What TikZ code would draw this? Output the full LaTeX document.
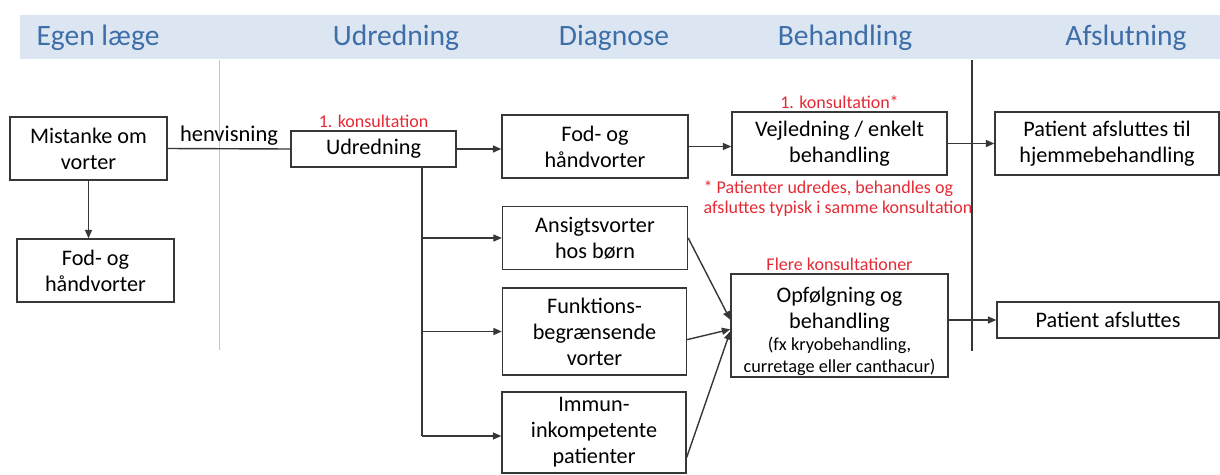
\documentclass[tikz,border=0pt]{standalone}
\usepackage{fontspec}
\setmainfont{Carlito}
\usetikzlibrary{arrows.meta}
\definecolor{bandblue}{RGB}{220,230,242}
\definecolor{headblue}{RGB}{62,110,168}
\definecolor{konsred}{RGB}{228,42,52}
\definecolor{linegray}{RGB}{55,55,55}
\newcommand{\smalltxt}{\fontsize{13}{15}\selectfont}

\begin{document}
\begin{tikzpicture}[x=0.025cm,y=-0.025cm,
    box/.style={draw=linegray,line width=1pt,align=center,inner sep=1pt,
      font=\fontsize{15.8}{18.5}\selectfont},
    sz/.style 2 args={minimum width=#1*0.025cm,minimum height=#2*0.025cm},
    head/.style={text=headblue,font=\fontsize{21}{24}\selectfont},
    konsnote/.style={text=konsred,font=\fontsize{12.8}{14.5}\selectfont,inner sep=1pt},
    conn/.style={draw=linegray,line width=1pt},
    pil/.style={conn,-{Triangle[length=6pt,width=5pt]}}]
  \useasboundingbox (0,0) rectangle (1220,474);
  \fill[bandblue] (20,15) rectangle (1220,59);
  \node[head] (h0) at (98,38) {Egen læge};
  \node[head] (h1) at (396,38) {Udredning};
  \node[head] (h2) at (614,38) {Diagnose};
  \node[head] (h3) at (845,38) {Behandling};
  \node[head] (h4) at (1126,38) {Afslutning};
  % phase separators
  \draw[gray!45,line width=0.6pt] (219,60) -- (219,350);
  \draw[linegray,line width=1pt] (972,60) -- (972,351);
  % boxes
  \node[box,sz={157}{63}] (mist) at (88.5,148.5) {Mistanke om\\vorter};
  \node[box,sz={157}{63}] (fodL) at (95.5,270.5) {Fod- og\\håndvorter};
  \node[box,sz={165}{36}] (udr) at (373.5,149) {Udredning};
  \node[box,sz={186}{63}] (fodM) at (595,146.5) {Fod- og\\håndvorter};
  \node[box,sz={185}{63}] (ans) at (595,238) {Ansigtsvorter\\hos børn};
  \node[box,sz={184}{87}] (funk) at (594.5,331.5) {Funktions-\\begrænsende\\vorter};
  \node[box,sz={184}{81}] (imm) at (594,432.5) {Immun-\\inkompetente\\patienter};
  \node[box,sz={215}{63}] (vej) at (839.5,143.5) {Vejledning / enkelt\\behandling};
  \node[box,sz={217}{103}] (opf) at (839.5,325.5)
    {\rule{0pt}{19pt}Opfølgning og\\behandling\\[-3pt]{\smalltxt (fx kryobehandling,}\\[-3pt]{\smalltxt curretage eller canthacur)}};
  \node[box,sz={224}{63}] (afh) at (1107,143.5) {Patient afsluttes til\\hjemmebehandling};
  \node[box,sz={222}{36}] (afs) at (1108,320) {Patient afsluttes};
  % red notes
  \node[konsnote,above=1pt] (k1) at (udr.north) {1. konsultation};
  \node[konsnote,above=1pt] (k2) at (vej.north) {1. konsultation*};
  \node[konsnote,above=1pt] (k3) at (opf.north) {Flere konsultationer};
  \node[konsnote,anchor=north west,align=left] (fn) at (702,179)
    {* Patienter udredes, behandles og\\afsluttes typisk i samme konsultation};
  % connectors
  \draw[pil] (mist.south) -- (mist.south |- fodL.north);
  \draw[conn] (mist.east) -- node[above,inner sep=2pt,font=\fontsize{16}{18}\selectfont] (hv) {henvisning} (udr.west);
  \draw[pil] (udr.east) -- (udr.east -| fodM.west);
  \draw[pil] (fodM.east) -- (fodM.east -| vej.west);
  \draw[pil] (vej.east) -- (vej.east -| afh.west);
  \draw[pil] (opf.east |- afs.west) -- (afs.west);
  \coordinate (t0) at (422,167);
  \coordinate (t1) at (422,436);
  \draw[conn] (t0) -- (t1);
  \draw[pil] (t0 |- ans.west) -- (ans.west);
  \draw[pil] (t0 |- funk.west) -- (funk.west);
  \draw[pil] (t1) -- (t1 -| imm.west);
  \draw[pil] (ans.east) -- (opf.177);
  \draw[pil] (funk.-5) -- (opf.182);
  \draw[pil] (imm.-15) -- (opf.183);
\end{tikzpicture}
\end{document}
